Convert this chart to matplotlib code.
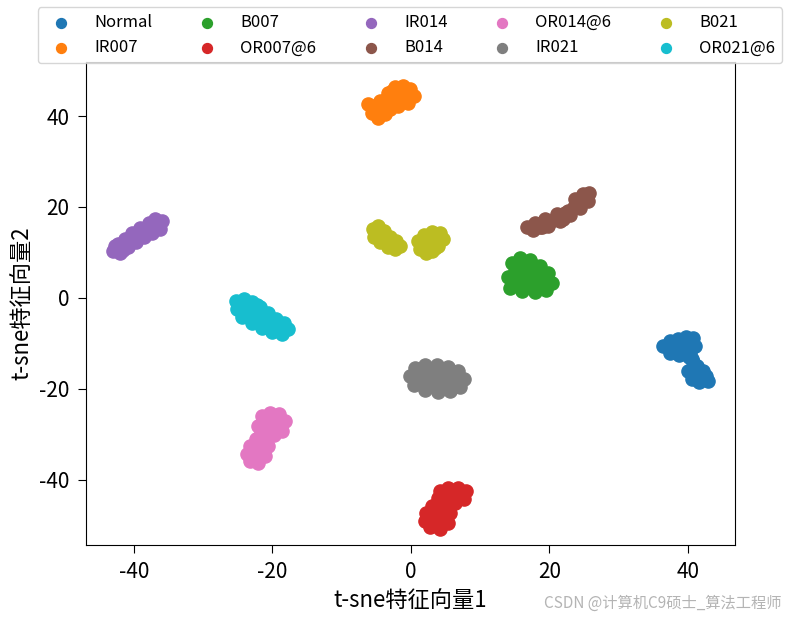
import matplotlib
matplotlib.use('Agg')
import matplotlib.pyplot as plt
import numpy as np

plt.rcParams['font.family'] = ['Noto Sans CJK SC', 'DejaVu Sans']
plt.rcParams['axes.unicode_minus'] = False

labels = ['Normal', 'IR007', 'B007', 'OR007@6', 'IR014',
          'B014', 'OR014@6', 'IR021', 'B021', 'OR021@6']

# t-SNE embedding points, one cluster per class
normal_x = [36.5, 37.4, 38.6, 39.7, 40.7, 41.1, 40.3, 38.8, 37.4, 39.6,
            40.6, 40.9, 41.7, 42.6, 42.9, 41.7, 40.6, 40.0, 41.4,
            38.0, 39.0, 37.8, 40.0, 39.2, 40.2, 40.8, 41.5, 42.0, 41.2, 42.2, 41.8]
normal_y = [-10.5, -9.5, -9.0, -8.6, -8.8, -10.5, -12.1, -12.5, -12.1, -10.5,
            -13.4, -15.2, -16.5, -17.1, -18.2, -18.5, -17.8, -16.0, -14.9,
            -10.0, -10.8, -11.3, -9.8, -9.5, -13.0, -14.2, -16.0, -17.2, -17.0, -16.0, -18.0]

ir007_x = [-6.2, -5.6, -4.8, -3.8, -4.5, -3.3, -2.3, -1.2, -0.1, 0.4,
           -0.4, -1.9, -3.0, -2.3, -5.2, -3.8,
           -4.0, -2.5, -1.2, -3.0, -4.8, -1.5, -0.8, -5.5, -3.5, -2.8]
ir007_y = [42.6, 40.7, 39.6, 40.4, 43.3, 45.1, 46.4, 46.6, 45.9, 44.4,
           42.9, 42.2, 41.5, 44.2, 41.8, 42.4,
           41.5, 43.2, 44.5, 43.0, 41.0, 45.5, 43.8, 42.2, 44.0, 45.5]

b007_x = [14.6, 15.7, 17.2, 18.6, 19.8, 20.4, 19.5, 17.9, 16.0, 14.3,
          14.0, 15.0, 16.8, 18.3, 16.0, 17.5,
          15.5, 16.5, 17.0, 18.5, 19.0, 16.5, 15.0, 17.8, 18.0, 15.5, 19.5, 17.2]
b007_y = [7.7, 8.8, 8.4, 7.0, 5.5, 3.3, 1.8, 1.3, 1.5, 2.2,
          4.6, 5.9, 5.5, 4.2, 3.5, 6.8,
          6.8, 7.5, 4.5, 5.8, 3.5, 2.5, 3.5, 2.3, 7.0, 4.6, 4.8, 6.2]

or007_x = [4.2, 5.3, 6.8, 7.9, 7.7, 6.4, 4.9, 3.9, 3.0, 2.2,
           2.0, 2.7, 4.2, 5.3, 5.6, 4.2, 6.4,
           5.5, 6.8, 5.0, 4.0, 3.5, 3.0, 3.8, 4.8, 5.0, 7.0, 3.4]
or007_y = [-42.4, -41.8, -41.8, -42.4, -44.2, -45.1, -44.6, -44.0, -45.7, -47.3,
           -49.0, -50.5, -50.8, -49.5, -47.3, -47.3, -43.3,
           -43.2, -43.5, -44.0, -45.5, -47.5, -49.0, -49.8, -48.2, -46.2, -42.8, -46.5]

ir014_x = [-43.0, -42.3, -41.3, -40.3, -39.1, -37.9, -37.0, -36.0, -36.2,
           -37.4, -38.6, -39.7, -40.9, -42.1, -40.5, -38.4, -42.7,
           -41.5, -40.0, -38.9, -37.6, -36.8, -41.6, -39.5, -38.2, -42.0, -40.8]
ir014_y = [10.3, 11.9, 13.0, 14.3, 15.4, 16.5, 17.4, 16.9, 15.2,
           14.3, 13.4, 12.3, 11.2, 9.9, 13.0, 15.2, 11.4,
           11.3, 12.5, 14.0, 15.8, 16.2, 10.5, 13.7, 14.8, 11.0, 12.0]

b014_x = [16.8, 17.6, 18.6, 19.6, 20.8, 21.8, 22.7, 23.5, 24.4, 25.3, 25.8,
          25.6, 24.4, 23.0, 21.5, 19.8, 17.9, 19.4, 21.1, 23.7, 24.8,
          18.0, 20.2, 22.3, 24.0, 25.0, 22.0, 19.0]
b014_y = [15.6, 14.9, 15.6, 16.5, 17.4, 18.0, 19.1, 20.0, 21.3, 22.4, 23.1,
          21.3, 19.8, 18.2, 16.9, 15.8, 16.5, 17.4, 18.5, 21.8, 22.9,
          15.7, 16.8, 18.6, 20.6, 21.9, 17.4, 15.6]

or014_x = [-21.5, -20.4, -19.1, -18.2, -18.6, -19.8, -21.1, -22.1, -22.4,
           -23.2, -23.7, -23.2, -22.1, -21.1, -20.6, -20.1, -21.8,
           -20.3, -19.3, -20.2, -21.0, -21.5, -22.6, -22.8, -21.8, -21.9, -19.2]
or014_y = [-25.9, -25.3, -25.5, -27.0, -29.2, -30.1, -29.7, -28.1, -31.0,
           -32.5, -34.3, -35.8, -36.3, -34.7, -32.5, -27.9, -33.2,
           -26.5, -27.0, -28.5, -27.8, -31.0, -32.8, -34.5, -35.0, -30.5, -28.8]

ir021_x = [-0.1, 0.6, 2.0, 3.8, 5.3, 6.8, 7.7, 7.1, 5.6, 3.9,
           2.0, 0.4, 2.0, 4.2, 5.9,
           1.2, 2.8, 4.5, 6.0, 7.0, 6.0, 4.5, 3.0, 1.2, 3.0, 0.8, 5.0]
ir021_y = [-17.1, -15.4, -14.7, -14.7, -15.2, -16.0, -17.8, -19.6, -20.4, -20.7,
           -20.2, -19.1, -17.4, -17.6, -18.0,
           -16.5, -16.0, -16.0, -16.8, -18.5, -19.5, -19.5, -19.3, -18.5, -18.0, -17.8, -18.0]

b021_x = [-5.5, -4.8, -3.9, -3.0, -2.2, -1.6, -2.3, -3.3, -4.5, -5.3, -3.8, -2.7,
          1.0, 1.3, 2.2, 3.0, 3.9, 4.6, 4.2, 3.0, 1.9, 2.7, 1.6,
          -4.6, -3.8, -3.0, -2.4, -4.5, -4.2, -3.3,
          2.2, 3.0, 3.8, 2.3, 3.5, 2.0, 3.5]
b021_y = [15.2, 15.8, 14.7, 13.4, 12.5, 11.4, 10.8, 11.2, 12.3, 13.4, 13.0, 11.9,
          12.5, 10.8, 9.9, 10.3, 11.4, 13.0, 14.3, 14.5, 13.8, 12.1, 11.6,
          14.2, 13.8, 12.6, 11.8, 13.2, 14.8, 12.0,
          11.0, 12.0, 12.5, 13.0, 13.8, 12.3, 11.0]

or021_x = [-25.3, -24.1, -23.0, -21.8, -20.6, -19.5, -18.3, -17.8, -18.6,
           -20.1, -21.5, -23.0, -24.4, -25.1, -23.5, -22.1, -20.4,
           -24.3, -23.2, -24.0, -22.5, -21.5, -20.5, -19.2, -18.6, -19.5, -21.0, -22.8, -23.8, -22.2]
or021_y = [-0.7, -0.2, -0.9, -2.0, -3.3, -4.6, -5.5, -6.8, -7.9,
           -7.5, -6.6, -5.5, -4.2, -2.4, -2.4, -4.0, -5.5,
           -1.2, -1.8, -2.8, -2.8, -4.0, -5.0, -5.8, -6.8, -7.0, -6.0, -4.0, -3.5, -1.5]

xs = [normal_x, ir007_x, b007_x, or007_x, ir014_x, b014_x, or014_x, ir021_x, b021_x, or021_x]
ys = [normal_y, ir007_y, b007_y, or007_y, ir014_y, b014_y, or014_y, ir021_y, b021_y, or021_y]

fig = plt.figure(figsize=(7.85, 6.19), dpi=100)
ax = fig.add_axes([0.110, 0.120, 0.826, 0.780])

for i in range(len(labels)):
    ax.scatter(xs[i], ys[i], s=90, color='C%d' % i, label=labels[i])

ax.set_xlim(-46.9, 46.8)
ax.set_ylim(-54.3, 51.9)
ax.set_xticks([-40, -20, 0, 20, 40])
ax.set_yticks([-40, -20, 0, 20, 40])
ax.tick_params(labelsize=15, length=6, pad=6)
ax.set_xlabel('t-sne特征向量1', fontsize=16, labelpad=4)
ax.set_ylabel('t-sne特征向量2', fontsize=16, labelpad=4)

fig.legend(loc='lower left', bbox_to_anchor=(0.048, 0.898, 0.948, 0.097),
           mode='expand', ncol=5, fontsize=12, markerscale=0.75,
           borderaxespad=0.0, handletextpad=1.0)

fig.text(0.995, 0.012, 'CSDN @计算机C9硕士_算法工程师', ha='right', va='bottom',
         fontsize=11, color='#b4b4b4')

fig.savefig('out.png', dpi=100)
